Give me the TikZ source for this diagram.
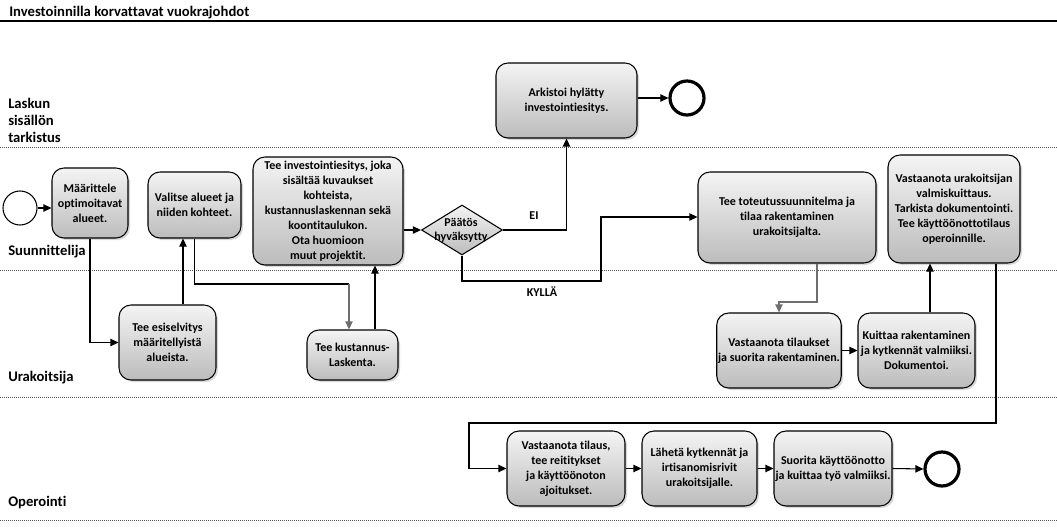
\documentclass[tikz,border=0pt]{standalone}
\usepackage{fontspec}
\setmainfont{Carlito}[Ligatures=NoCommon]
\usetikzlibrary{shapes.geometric,arrows.meta,calc,shadows}
\definecolor{boxtop}{RGB}{244,244,244}
\definecolor{boxbot}{RGB}{188,188,188}
\definecolor{laneline}{RGB}{90,90,90}
\definecolor{greyconn}{RGB}{110,110,110}
\begin{document}
\begin{tikzpicture}[x=0.75pt,y=-0.75pt,
  sz/.style 2 args={minimum width=#1*0.75pt,minimum height=#2*0.75pt},
  box/.style={draw=black, line width=0.8pt, rounded corners=9pt,
    top color=boxtop, bottom color=boxbot, align=center, inner sep=1pt,
    font=\bfseries\fontsize{9}{11.25}\selectfont,
    drop shadow={opacity=0.3,shadow xshift=1.5pt,shadow yshift=-1.5pt}},
  gate/.style={diamond, draw=black, line width=0.8pt, inner sep=0pt,
    top color=boxtop, bottom color=boxbot, aspect=1.62},
  gatetext/.style={align=center, inner sep=0pt, font=\bfseries\fontsize{9}{10.5}\selectfont},
  startev/.style={circle, draw=black, line width=0.8pt, fill=white, inner sep=0pt, minimum size=34*0.75pt},
  endev/.style={circle, draw=black, line width=2.4pt, fill=white, inner sep=0pt, minimum size=34*0.75pt},
  conn/.style={-{Triangle[length=6pt,width=5.5pt]}, line width=0.8pt, black},
  gconn/.style={-{Triangle[length=6pt,width=5.5pt]}, line width=0.8pt, greyconn},
  lanesep/.style={draw=laneline, line width=0.75pt, dash pattern=on 0.75pt off 0.75pt},
  lanelabel/.style={anchor=west, align=left, inner sep=0pt, font=\bfseries\fontsize{11}{12.75}\selectfont},
  edgelabel/.style={inner sep=0pt, font=\bfseries\fontsize{9}{11}\selectfont}
]
\useasboundingbox (0,0) rectangle (1057,528);

% title and lanes
\node[lanelabel] (title) at (9,13) {Investoinnilla korvattavat vuokrajohdot};
\draw[line width=1.1pt] (0,21) -- (1057,21);
\draw[lanesep] (0,147) -- (1057,147);
\draw[lanesep] (0,270) -- (1057,270);
\draw[lanesep] (0,397) -- (1057,397);
\draw[lanesep] (0,520) -- (1057,520);
\node[lanelabel] (l1) at (8,120) {Laskun\\sisällön\\tarkistus};
\node[lanelabel] (l2) at (8,252) {Suunnittelija};
\node[lanelabel] (l3) at (8,378) {Urakoitsija};
\node[lanelabel] (l4) at (8,503) {Operointi};

% events
\node[startev] (start) at (20,208) {};
\node[endev] (end1) at (687,98) {};
\node[endev] (end2) at (942,469) {};

% tasks
\node[box, sz={76}{70}] (def) at (90,203) {Määrittele\\optimoitavat\\alueet.};
\node[box, sz={93}{66}] (val) at (194.5,205) {Valitse alueet ja\\niiden kohteet.};
\node[box, sz={150}{108}] (inv) at (328,211) {Tee investointiesitys, joka\\sisältää kuvaukset\\kohteista,\\kustannuslaskennan sekä\\koontitaulukon.\\Ota huomioon\\muut projektit.};
\node[box, sz={141}{75}] (ark) at (566.5,100.5) {Arkistoi hylätty\\investointiesitys.};
\node[box, sz={178}{91}] (tot) at (787,217.5) {Tee toteutussuunnitelma ja\\tilaa rakentaminen\\urakoitsijalta.};
\node[box, sz={132}{108}] (vmk) at (954,209) {Vastaanota urakoitsijan\\valmiskuittaus.\\Tarkista dokumentointi.\\Tee käyttöönottotilaus\\operoinnille.};
\node[box, sz={97}{75}] (esi) at (167.5,342.5) {Tee esiselvitys\\määritellyistä\\alueista.};
\node[box, sz={91}{50}] (kus) at (352.5,355) {Tee kustannus-\\Laskenta.};
\node[box, sz={124}{75}] (vtr) at (779,350.5) {Vastaanota tilaukset\\ja suorita rakentaminen.};
\node[box, sz={117}{75}] (kui) at (916.5,350.5) {Kuittaa rakentaminen\\ja kytkennät valmiiksi.\\Dokumentoi.};
\node[box, sz={118}{75}] (vtl) at (566,468.5) {Vastaanota tilaus,\\tee reititykset\\ja käyttöönoton\\ajoitukset.};
\node[box, sz={115}{75}] (lah) at (699.5,468.5) {Lähetä kytkennät ja\\irtisanomisrivit\\urakoitsijalle.};
\node[box, sz={118}{75}] (suo) at (833,468.5) {Suorita käyttöönotto\\ja kuittaa työ valmiiksi.};

% gateway
\node[gate, minimum width=81*0.75pt, minimum height=50*0.75pt] (dia) at (462,230) {};
\node[gatetext] (diat) at (461,230) {Päätös\\hyväksytty};

% helper coordinates
\coordinate (k1) at (601,281);
\coordinate (k2) at (601,217);
\coordinate (v1) at (349,284);
\coordinate (t1) at (817,302);
\coordinate (o1) at (996,423);
\coordinate (o2) at (469,423);
\coordinate (esiup) at ($(esi.north)+(15.5,0)$);
\coordinate (kusup) at ($(kus.north)+(22.5,0)$);
\coordinate (kusin) at ($(kus.north)+(-3.5,0)$);
\coordinate (kuiup) at ($(kui.north)+(13.5,0)$);
\coordinate (totdn) at ($(tot.south)+(30,0)$);
\coordinate (vmkdn) at ($(vmk.south)+(42,0)$);

% connectors
\draw[conn] (start.east) -- (def.west |- start.east);
\draw[conn] (def.south) |- (esi.west);
\draw[conn] (esiup) -- (esiup |- val.south);
\draw[line width=0.8pt] (val.south) |- (v1);
\draw[gconn] (v1) -- (kusin);
\draw[conn] (kusup) -- (kusup |- inv.south);
\draw[conn] (inv.east |- dia.west) -- (dia.west);
\draw[conn] (dia.east) -| (ark.south);
\draw[conn] (dia.south) |- (k1) -- (k2) -- (tot.west |- k2);
\draw[conn] (ark.east |- end1) -- (end1.west);
\draw[gconn] (totdn) |- (t1) -| (vtr.north);
\draw[conn] (vtr.east) -- (kui.west);
\draw[conn] (kuiup) -- (kuiup |- vmk.south);
\draw[conn] (vmkdn) -- (o1) -- (o2) |- (vtl.west);
\draw[conn] (vtl.east) -- (lah.west);
\draw[conn] (lah.east) -- (suo.west);
\draw[conn] (suo.east) -- (end2.west);

% edge labels
\node[edgelabel] (ei) at (534,216) {EI};
\node[edgelabel] (kylla) at (542,292) {KYLLÄ};
\end{tikzpicture}
\end{document}
